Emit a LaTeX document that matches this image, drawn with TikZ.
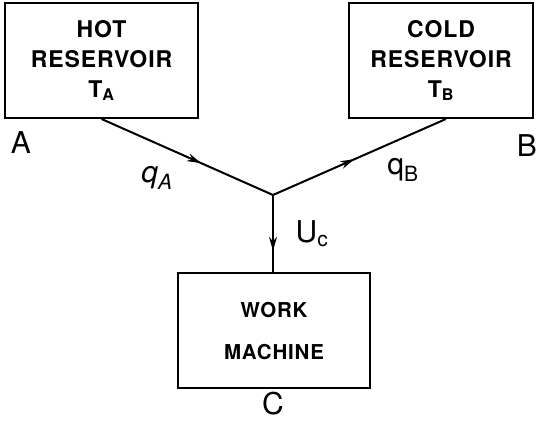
\documentclass[tikz,border=0pt]{standalone}
\usepackage{fontspec}
\setmainfont{TeX Gyre Heros}
\newfontfamily\boxfont[LetterSpace=4]{TeX Gyre Heros}
\usetikzlibrary{positioning}
\usetikzlibrary{arrows.meta}
\usetikzlibrary{decorations.markings}

\begin{document}
\begin{tikzpicture}[x=1pt, y=1pt,
  unit/.style={draw, line width=2pt, align=center, inner sep=0pt},
  flow/.style={line width=2pt},
  midarrow/.style={postaction={decorate}, decoration={markings,
      mark=at position #1 with {\arrow{Stealth[length=14pt,width=8pt]}}}},
  letter/.style={inner sep=0pt, font=\fontsize{30}{30}\selectfont},
  sym/.style={inner sep=0pt, font=\fontsize{30}{30}\selectfont}
]
  \useasboundingbox (0,0) rectangle (536,425);

  % Reservoirs at the top
  \node[unit, minimum width=193pt, minimum height=115pt,
        font=\boxfont\bfseries\fontsize{23}{30}\selectfont] (hot) at (101.5,364.5)
        {HOT\\RESERVOIR\\T\textsubscript{A}};
  \node[unit, minimum width=184pt, minimum height=115pt,
        font=\boxfont\bfseries\fontsize{23}{30}\selectfont] (cold) at (441,364.5)
        {COLD\\RESERVOIR\\T\textsubscript{B}};

  % Machine at the bottom
  \node[unit, minimum width=192pt, minimum height=115pt,
        font=\boxfont\bfseries\fontsize{20.5}{42}\selectfont] (work) at (274,94)
        {WORK\\MACHINE};

  \coordinate (jn) at (273,230);

  % Heat and work flows
  \draw[flow, midarrow=0.58] (hot.south) -- (jn);
  \draw[flow, midarrow=0.47] (jn) -- ([xshift=5pt]cold.south);
  \draw[flow, midarrow=0.72] (jn) -- (jn |- work.north);

  % Labels
  \node[letter] (lblA) at (21,282) {A};
  \node[letter] (lblB) at (527,279) {B};
  \node[letter] (lblC) at (273,21) {C};
  \node[sym] (qa) at (157,247) {\itshape q\textsubscript{A}};
  \node[sym] (qb) at (403,255) {q\textsubscript{B}};
  \node[sym] (uc) at (312,191) {U\textsubscript{c}};
\end{tikzpicture}
\end{document}
